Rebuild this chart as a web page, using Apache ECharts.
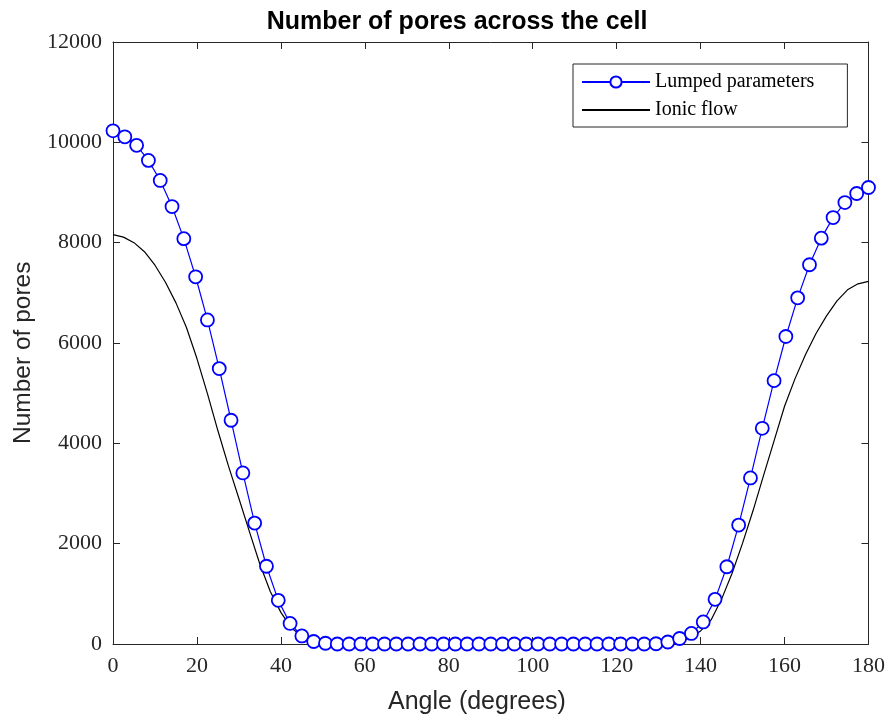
<!DOCTYPE html>
<html><head><meta charset="utf-8">
<script src="https://cdn.jsdelivr.net/npm/echarts@6/dist/echarts.min.js"></script>
<style>html,body{margin:0;padding:0;background:#fff}#c{width:888px;height:716px}</style>
</head><body><div id="c"></div>
<script>
const lumpedAngles = [0, 2.8125, 5.625, 8.4375, 11.25, 14.0625, 16.875, 19.6875, 22.5, 25.3125, 28.125, 30.9375, 33.75, 36.5625, 39.375, 42.1875, 45, 47.8125, 50.625, 53.4375, 56.25, 59.0625, 61.875, 64.6875, 67.5, 70.3125, 73.125, 75.9375, 78.75, 81.5625, 84.375, 87.1875, 90, 92.8125, 95.625, 98.4375, 101.25, 104.0625, 106.875, 109.6875, 112.5, 115.3125, 118.125, 120.9375, 123.75, 126.5625, 129.375, 132.1875, 135, 137.8125, 140.625, 143.4375, 146.25, 149.0625, 151.875, 154.6875, 157.5, 160.3125, 163.125, 165.9375, 168.75, 171.5625, 174.375, 177.1875, 180];
const lumpedValues = [10230, 10110, 9940, 9640, 9240, 8720, 8080, 7320, 6460, 5490, 4460, 3410, 2410, 1550, 870, 410, 160, 50, 15, 0, 0, 0, 0, 0, 0, 0, 0, 0, 0, 0, 0, 0, 0, 0, 0, 0, 0, 0, 0, 0, 0, 0, 0, 0, 0, 0, 5, 40, 110, 210, 440, 890, 1540, 2370, 3310, 4300, 5250, 6130, 6900, 7560, 8090, 8500, 8800, 8980, 9100];
const ionicAngles = [0, 2.5, 5, 7.5, 10, 12.5, 15, 17.5, 20, 22.5, 25, 27.5, 30, 32.5, 35, 37.5, 40, 42.5, 45, 47.5, 50, 52.5, 55, 60, 90, 120, 125, 130, 132.5, 135, 137.5, 140, 142.5, 145, 147.5, 150, 152.5, 155, 157.5, 160, 162.5, 165, 167.5, 170, 172.5, 175, 177.5, 180];
const ionicValues = [8160, 8110, 8000, 7820, 7550, 7210, 6800, 6310, 5690, 4990, 4250, 3550, 2900, 2240, 1590, 1040, 630, 320, 160, 65, 28, 10, 3, 0, 0, 0, 0, 5, 15, 50, 120, 260, 480, 895, 1410, 2010, 2660, 3360, 4050, 4740, 5290, 5770, 6190, 6540, 6840, 7060, 7180, 7230];
const xTicks = [0, 20, 40, 60, 80, 100, 120, 140, 160, 180];
const yTicks = [0, 2000, 4000, 6000, 8000, 10000, 12000];
const seriesNames = ['Lumped parameters', 'Ionic flow'];
const titleText = 'Number of pores across the cell';
const xLabel = 'Angle (degrees)';
const yLabel = 'Number of pores';

const chart = echarts.init(document.getElementById('c'), null, {renderer: 'canvas'});
const axisCol = '#262626';
const tickStyle = {show: true, inside: true, length: 7, lineStyle: {color: axisCol, width: 1}};
const baseX = {type: 'value', min: xTicks[0], max: xTicks[xTicks.length - 1], interval: 20,
  axisLine: {show: true, onZero: false, lineStyle: {color: axisCol, width: 1}}, axisTick: tickStyle, splitLine: {show: false}};
const baseY = {type: 'value', min: yTicks[0], max: yTicks[yTicks.length - 1], interval: 2000,
  axisLine: {show: true, onZero: false, lineStyle: {color: axisCol, width: 1}}, axisTick: tickStyle, splitLine: {show: false}};
const labelStyle = {show: true, color: axisCol, fontFamily: 'Liberation Serif, serif', fontSize: 22, formatter: v => String(v)};

chart.setOption({
  animation: false,
  backgroundColor: '#ffffff',
  title: {text: titleText, left: 452, top: 5, textAlign: 'center',
    textStyle: {fontFamily: '"Liberation Sans",Arial,sans-serif', fontWeight: 'bold', fontSize: 25, color: '#000'}},
  grid: {left: 113, right: 16, top: 42, bottom: 72, containLabel: false},
  xAxis: [
    Object.assign({}, baseX, {position: 'bottom', axisLabel: Object.assign({}, labelStyle, {margin: 11})}),
    Object.assign({}, baseX, {position: 'top', axisLabel: {show: false}})
  ],
  yAxis: [
    Object.assign({}, baseY, {position: 'left', axisLabel: Object.assign({}, labelStyle, {margin: 11})}),
    Object.assign({}, baseY, {position: 'right', axisLabel: {show: false}})
  ],
  legend: {
    orient: 'vertical', left: 573, top: 64,
    data: [
      {name: seriesNames[0]},
      {name: seriesNames[1], itemStyle: {color: 'rgba(0,0,0,0)', borderWidth: 0, opacity: 0}}
    ],
    itemWidth: 68, itemHeight: 14, itemGap: 8,
    padding: [8, 33, 7, 8],
    borderColor: axisCol, borderWidth: 1, backgroundColor: '#fff',
    textStyle: {fontFamily: 'Liberation Serif, serif', fontSize: 20, color: '#000'}
  },
  graphic: [
    {type: 'text', left: 388, top: 690, style: {text: xLabel, font: '25px "Liberation Sans", Arial, sans-serif', fill: axisCol}},
    {type: 'text', rotation: Math.PI / 2, x: 11, y: 444, style: {text: yLabel, font: '24.5px "Liberation Sans", Arial, sans-serif', fill: axisCol}}
  ],
  series: [
    {name: seriesNames[0], type: 'line', xAxisIndex: 0, yAxisIndex: 0,
      data: lumpedAngles.map((a, i) => [a, lumpedValues[i]]),
      symbol: 'circle', symbolSize: 13, showAllSymbol: true,
      itemStyle: {color: '#fff', borderColor: '#0000ff', borderWidth: 1.8},
      lineStyle: {color: '#0000ff', width: 1.2}, color: '#0000ff', z: 3},
    {name: seriesNames[1], type: 'line', xAxisIndex: 0, yAxisIndex: 0,
      data: ionicAngles.map((a, i) => [a, ionicValues[i]]),
      symbol: 'none', smooth: false,
      lineStyle: {color: '#000000', width: 1.2}, color: '#000', z: 2}
  ]
});
</script></body></html>
